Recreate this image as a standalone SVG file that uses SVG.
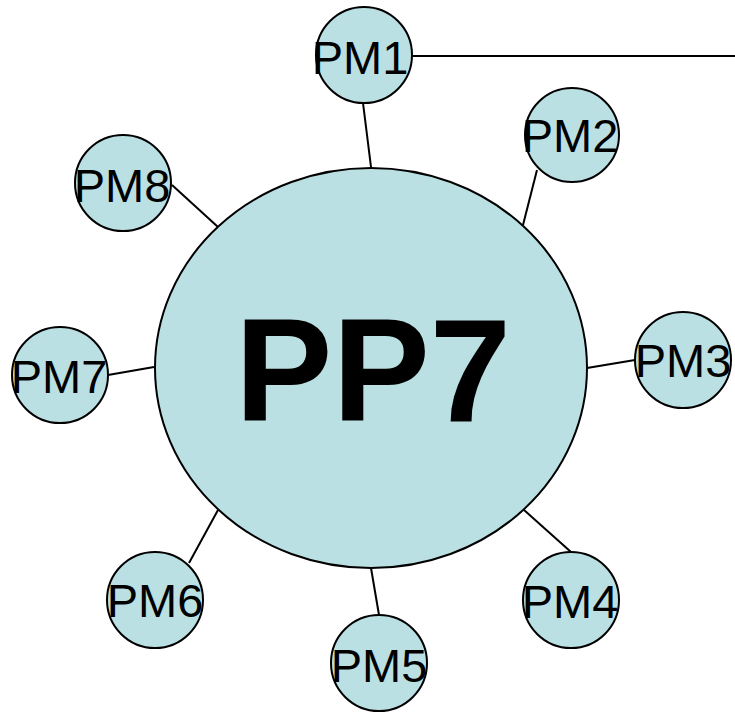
<svg xmlns="http://www.w3.org/2000/svg" width="735" height="714" viewBox="0 0 735 714">
<style>
.n{fill:#BBE0E3;stroke:#000;stroke-width:2}
.t{font-family:"Liberation Sans",Arial,sans-serif;font-size:47px;fill:#000;text-anchor:middle}
.c line{stroke:#000;stroke-width:2}
</style>
<rect width="735" height="714" fill="#fff"/>
<g class="c" id="connectors">
<line x1="413" y1="56" x2="735" y2="56"/>
<line x1="363" y1="103" x2="371" y2="167"/>
<line x1="537" y1="170" x2="523" y2="225"/>
<line x1="587" y1="368" x2="635" y2="360"/>
<line x1="524" y1="510" x2="571" y2="552"/>
<line x1="371" y1="568" x2="379" y2="615"/>
<line x1="218" y1="510" x2="189" y2="563"/>
<line x1="154" y1="367" x2="108" y2="375"/>
<line x1="218" y1="227" x2="172" y2="185"/>
</g>
<g id="PP7">
<ellipse class="n" cx="371" cy="368" rx="216" ry="200"/>
<text x="373" y="421" style="font-family:'Liberation Sans',Arial,sans-serif;font-size:146px;font-weight:bold;text-anchor:middle">PP7</text>
</g>
<g id="PM1"><circle class="n" cx="364" cy="55" r="48"/><text class="t" x="360" y="74">PM1</text></g>
<g id="PM2"><circle class="n" cx="572" cy="135" r="47"/><text class="t" x="570" y="152">PM2</text></g>
<g id="PM3"><circle class="n" cx="683" cy="360" r="48"/><text class="t" x="683" y="377">PM3</text></g>
<g id="PM4"><circle class="n" cx="571" cy="600" r="48"/><text class="t" x="570" y="618">PM4</text></g>
<g id="PM5"><circle class="n" cx="379" cy="663" r="48"/><text class="t" x="379" y="682">PM5</text></g>
<g id="PM6"><circle class="n" cx="155" cy="600" r="48"/><text class="t" x="155" y="617">PM6</text></g>
<g id="PM7"><circle class="n" cx="60" cy="375" r="48"/><text class="t" x="59" y="393">PM7</text></g>
<g id="PM8"><circle class="n" cx="123" cy="183" r="48"/><text class="t" x="122" y="202">PM8</text></g>
</svg>
